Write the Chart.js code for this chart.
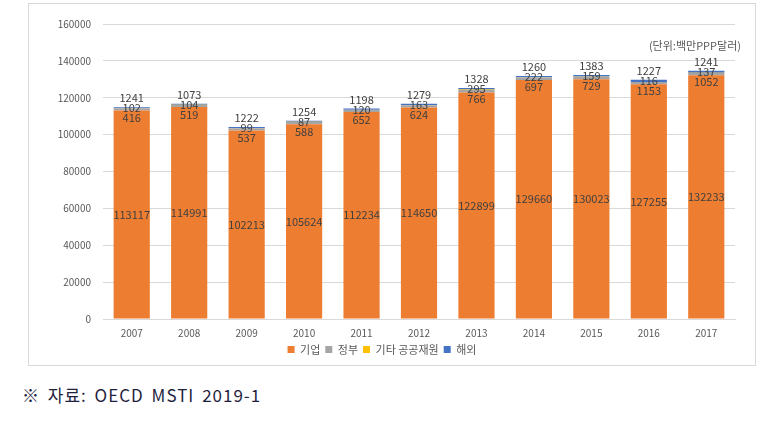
<!DOCTYPE html>
<html>
<head>
<meta charset="utf-8">
<script src="https://cdn.jsdelivr.net/npm/chart.js@4.4.0/dist/chart.umd.min.js"></script>
<style>
    body { margin: 0; background: #fff; width: 777px; height: 421px; position: relative; overflow: hidden; font-family: 'Noto Sans CJK KR', sans-serif; }
    #frame { position: absolute; left: 28px; top: 3px; width: 728px; height: 363px; border: 1px solid #d9d9d9; box-sizing: border-box; }
    #unit { position: absolute; right: 36px; top: 37px; font-size: 11px; color: #595959; }
    #source { position: absolute; left: 22px; top: 382px; font-size: 17px; letter-spacing: 1px; word-spacing: 3px; color: #1f1f3f; }
</style>
</head>
<body>
<div id="frame"><canvas id="chart"></canvas></div>
<div id="unit">(단위:백만PPP달러)</div>
<div id="source">※ 자료: OECD MSTI 2019-1</div>
<script>
        const years = ['2007', '2008', '2009', '2010', '2011', '2012', '2013', '2014', '2015', '2016', '2017'];
        const business = [113117, 114991, 102213, 105624, 112234, 114650, 122899, 129660, 130023, 127255, 132233];
        const government = [1241, 1073, 1222, 1254, 1198, 1279, 1328, 1260, 1383, 1227, 1241];
        const otherPublic = [102, 104, 99, 87, 120, 163, 295, 222, 159, 116, 137];
        const abroad = [416, 519, 537, 588, 652, 624, 766, 697, 729, 1153, 1052];

        const labelFont = '11px "Noto Sans CJK KR", sans-serif';

        // labels: orange value in the middle, small ones stacked near the bar top
        const labelPlugin = {
            id: 'barLabels',
            afterDatasetsDraw(chart) {
                const ctx = chart.ctx;
                const y = chart.scales.y;
                const bizMeta = chart.getDatasetMeta(0);
                ctx.save();
                ctx.font = labelFont;
                ctx.fillStyle = '#404040';
                ctx.textAlign = 'center';
                ctx.textBaseline = 'middle';
                bizMeta.data.forEach((bar, i) => {
                    ctx.fillText(business[i], bar.x, (bar.y + bar.base) / 2);
                    const total = business[i] + government[i] + otherPublic[i] + abroad[i];
                    const top = y.getPixelForValue(total);
                    ctx.fillText(government[i], bar.x, top - 9);
                    ctx.fillText(otherPublic[i], bar.x, top + 1);
                    ctx.fillText(abroad[i], bar.x, top + 11);
                });
                ctx.restore();
            }
        };

        function createChart() {
            const canvas = document.getElementById('chart');
            canvas.width = 726;
            canvas.height = 361;
            const ctx = canvas.getContext('2d');

            window.resultsChart = new Chart(ctx, {
                type: 'bar',
                data: {
                    labels: years,
                    datasets: [
                        { label: '기업', data: business, backgroundColor: '#ED7D31' },
                        { label: '정부', data: government, backgroundColor: '#A5A5A5' },
                        { label: '기타 공공재원', data: otherPublic, backgroundColor: '#FFC000' },
                        { label: '해외', data: abroad, backgroundColor: '#4472C4' }
                    ]
                },
                options: {
                    responsive: false,
                    animation: false,
                    layout: { padding: { top: 20, right: 20, left: 0, bottom: 0 } },
                    datasets: { bar: { barPercentage: 0.63, categoryPercentage: 1 } },
                    plugins: {
                        legend: {
                            position: 'bottom',
                            labels: {
                                boxWidth: 7, boxHeight: 7, padding: 5,
                                color: '#595959',
                                font: { family: '"Noto Sans CJK KR", sans-serif', size: 11 }
                            }
                        },
                        tooltip: { enabled: false }
                    },
                    scales: {
                        x: {
                            stacked: true,
                            grid: { display: false },
                            border: { color: '#d9d9d9' },
                            ticks: { color: '#595959', font: { family: '"Noto Sans CJK KR", sans-serif', size: 10 }, padding: 0 }
                        },
                        y: {
                            stacked: true,
                            min: 0, max: 160000,
                            afterFit: (scale) => { scale.width = 74; },
                            grid: { color: '#d9d9d9', drawTicks: false },
                            border: { display: false },
                            ticks: {
                                stepSize: 20000, color: '#595959', padding: 12,
                                font: { family: '"Noto Sans CJK KR", sans-serif', size: 10 },
                                callback: (v) => String(v)
                            }
                        }
                    }
                },
                plugins: [labelPlugin]
            });
        }

        window.addEventListener('load', createChart);
</script>
</body>
</html>
